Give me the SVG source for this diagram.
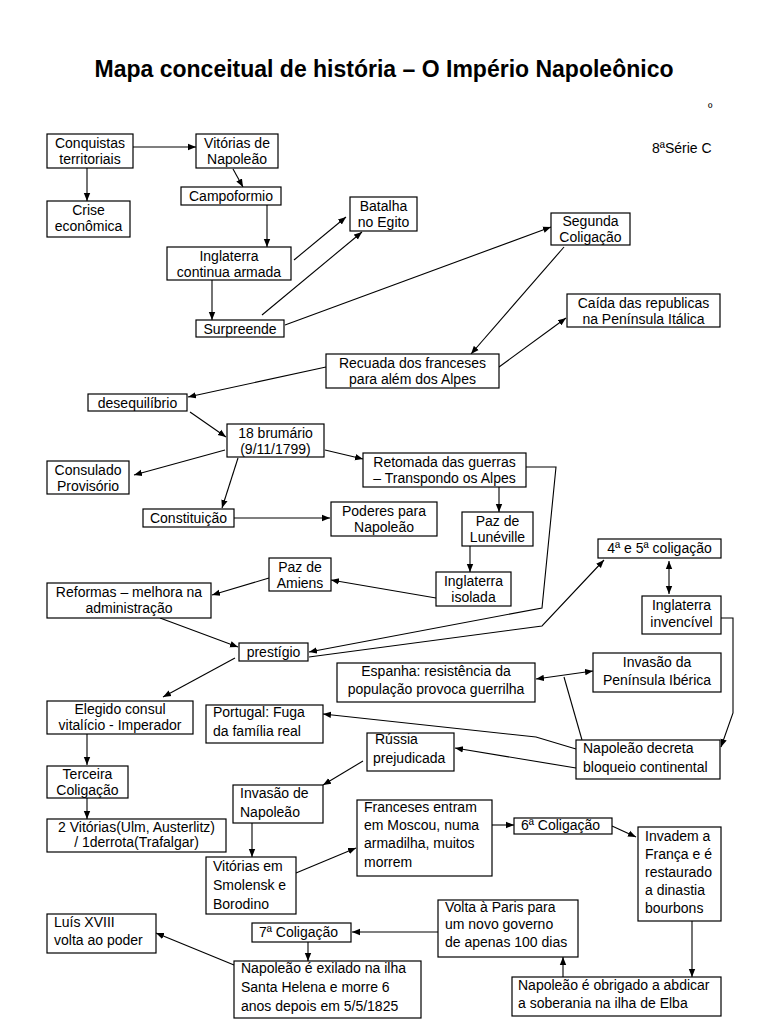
<svg xmlns="http://www.w3.org/2000/svg" width="768" height="1024" viewBox="0 0 768 1024">
<defs>
<marker id="a" viewBox="0 0 10 10" refX="10" refY="5" markerWidth="8" markerHeight="8" markerUnits="userSpaceOnUse" orient="auto-start-reverse"><path d="M0,1 L10,5 L0,9 z" fill="#000"/></marker>
<style>
rect{fill:#fff;stroke:#000;stroke-width:1.2}
text{font-family:"Liberation Sans",Arial,sans-serif;font-size:14px;fill:#000}
.c{text-anchor:middle}
#connectors path{fill:none;stroke:#000;stroke-width:1.1}
.e{marker-end:url(#a)}
.d{marker-start:url(#a);marker-end:url(#a)}
</style>
</defs>
<rect x="0" y="0" width="768" height="1024" style="fill:#fff;stroke:none"/>
<text x="384" y="77" class="c" style="font-size:23px;font-weight:bold">Mapa conceitual de história – O Império Napoleônico</text>
<text x="708" y="112" style="font-size:12px">º</text>
<text x="652" y="153">8ªSérie C</text>

<g id="connectors">
<path class="e" d="M133,147 L196,147"/>
<path class="e" d="M87,168 L87,201"/>
<path class="e" d="M233,169 L243,187"/>
<path class="e" d="M267,205 L267,247"/>
<path class="e" d="M212,280 L212,320"/>
<path class="e" d="M294,260 L346,217"/>
<path class="e" d="M262,315 L362,232"/>
<path class="e" d="M285,325 L551,227"/>
<path class="e" d="M564,247 L471,354"/>
<path class="e" d="M499,367 L566,318"/>
<path class="e" d="M326,367 L188,397"/>
<path class="e" d="M190,412 L226,437"/>
<path class="e" d="M225,450 L134,475"/>
<path class="e" d="M238,458 L222,508"/>
<path class="e" d="M325,450 L363,459"/>
<path class="e" d="M234,518 L330,518"/>
<path class="e" d="M499,487 L499,512"/>
<path class="e" d="M470,546 L470,572"/>
<path class="e" d="M436,598 L331,580"/>
<path class="e" d="M269,578 L212,595"/>
<path class="e" d="M160,618 L238,647"/>
<path class="e" d="M526,467 L556,467 L542,608 L309,652"/>
<path class="e" d="M309,657 L542,626 L604,560"/>
<path class="d" d="M669,561 L669,594"/>
<path class="e" d="M721,618 L733,618 L733,713 L721,747"/>
<path class="d" d="M536,679 L593,671"/>
<path d="M582,740 L564,677"/>
<path class="e" d="M576,749 L536,737 L323,714"/>
<path class="e" d="M576,768 L455,748"/>
<path class="e" d="M235,658 L163,697"/>
<path class="e" d="M87,734 L87,765"/>
<path class="e" d="M87,798 L87,819"/>
<path class="e" d="M363,761 L323,785"/>
<path class="e" d="M252,823 L252,857"/>
<path class="e" d="M296,873 L356,848"/>
<path class="e" d="M492,825 L514,825"/>
<path class="e" d="M612,826 L636,837"/>
<path class="e" d="M692,921 L692,977"/>
<path class="e" d="M563,977 L563,957"/>
<path class="e" d="M438,932 L352,932"/>
<path class="e" d="M308,942 L308,961"/>
<path class="e" d="M234,965 L156,933"/>
</g>

<g id="n1"><rect x="47" y="134" width="86" height="34"/><text x="90" y="148" class="c">Conquistas</text><text x="90" y="164" class="c">territoriais</text></g>
<g id="n2"><rect x="196" y="134" width="82" height="34"/><text x="237" y="148" class="c">Vitórias de</text><text x="237" y="164" class="c">Napoleão</text></g>
<g id="n3"><rect x="181" y="187" width="100" height="18"/><text x="231" y="201" class="c">Campoformio</text></g>
<g id="n4"><rect x="47" y="201" width="83" height="36"/><text x="88.5" y="215" class="c">Crise</text><text x="88.5" y="231" class="c">econômica</text></g>
<g id="n5"><rect x="167" y="247" width="124" height="33"/><text x="229" y="261" class="c">Inglaterra</text><text x="229" y="277" class="c">continua armada</text></g>
<g id="n6"><rect x="196" y="320" width="88" height="17"/><text x="240" y="334" class="c">Surpreende</text></g>
<g id="n7"><rect x="350" y="197" width="67" height="34"/><text x="383.5" y="211" class="c">Batalha</text><text x="383.5" y="227" class="c">no Egito</text></g>
<g id="n8"><rect x="551" y="213" width="79" height="32"/><text x="590.5" y="226" class="c">Segunda</text><text x="590.5" y="242" class="c">Coligação</text></g>
<g id="n9"><rect x="567" y="294" width="153" height="33"/><text x="643.5" y="308" class="c">Caída das republicas</text><text x="643.5" y="324" class="c">na Península Itálica</text></g>
<g id="n10"><rect x="326" y="354" width="173" height="34"/><text x="412.5" y="368" class="c">Recuada dos franceses</text><text x="412.5" y="384" class="c">para além dos Alpes</text></g>
<g id="n11"><rect x="88" y="394" width="99" height="17"/><text x="137.5" y="408" class="c">desequilíbrio</text></g>
<g id="n12"><rect x="227" y="424" width="97" height="33"/><text x="275.5" y="438" class="c">18 brumário</text><text x="275.5" y="454" class="c">(9/11/1799)</text></g>
<g id="n13"><rect x="47" y="461" width="82" height="33"/><text x="88" y="475" class="c">Consulado</text><text x="88" y="491" class="c">Provisório</text></g>
<g id="n14"><rect x="143" y="509" width="91" height="18"/><text x="188.5" y="523" class="c">Constituição</text></g>
<g id="n15"><rect x="331" y="502" width="106" height="34"/><text x="384" y="516" class="c">Poderes para</text><text x="384" y="532" class="c">Napoleão</text></g>
<g id="n16"><rect x="363" y="453" width="163" height="34"/><text x="444.5" y="467" class="c">Retomada das guerras</text><text x="444.5" y="483" class="c">– Transpondo os Alpes</text></g>
<g id="n17"><rect x="462" y="512" width="71" height="34"/><text x="497.5" y="526" class="c">Paz de</text><text x="497.5" y="542" class="c">Lunéville</text></g>
<g id="n18"><rect x="436" y="572" width="75" height="34"/><text x="473.5" y="586" class="c">Inglaterra</text><text x="473.5" y="602" class="c">isolada</text></g>
<g id="n19"><rect x="269" y="558" width="62" height="33"/><text x="300" y="572" class="c">Paz de</text><text x="300" y="588" class="c">Amiens</text></g>
<g id="n20"><rect x="47" y="583" width="164" height="35"/><text x="129" y="597" class="c">Reformas – melhora na</text><text x="129" y="613" class="c">administração</text></g>
<g id="n21"><rect x="239" y="643" width="69" height="18"/><text x="273.5" y="657" class="c">prestígio</text></g>
<g id="n22"><rect x="598" y="539" width="123" height="19"/><text x="659.5" y="553" class="c">4ª e 5ª coligação</text></g>
<g id="n23"><rect x="642" y="596" width="79" height="38"/><text x="681.5" y="610" class="c">Inglaterra</text><text x="681.5" y="627" class="c">invencível</text></g>
<g id="n24"><rect x="337" y="663" width="198" height="39"/><text x="436" y="676" class="c">Espanha: resistência da</text><text x="436" y="694" class="c">população provoca guerrilha</text></g>
<g id="n25"><rect x="593" y="653" width="128" height="39"/><text x="657" y="667" class="c">Invasão da</text><text x="657" y="685" class="c">Península Ibérica</text></g>
<g id="n26"><rect x="47" y="701" width="146" height="33"/><text x="120" y="714" class="c">Elegido consul</text><text x="120" y="730" class="c">vitalício - Imperador</text></g>
<g id="n27"><rect x="206" y="705" width="117" height="38"/><text x="213" y="717">Portugal: Fuga</text><text x="213" y="736">da família real</text></g>
<g id="n28"><rect x="367" y="733" width="87" height="38"/><text x="375" y="744">Rússia</text><text x="373" y="763">prejudicada</text></g>
<g id="n29"><rect x="576" y="740" width="144" height="39"/><text x="583" y="753">Napoleão decreta</text><text x="583" y="772">bloqueio continental</text></g>
<g id="n30"><rect x="47" y="766" width="81" height="32"/><text x="87.5" y="779" class="c">Terceira</text><text x="87.5" y="795" class="c">Coligação</text></g>
<g id="n31"><rect x="47" y="819" width="179" height="33"/><text x="136.5" y="832" class="c">2 Vitórias(Ulm, Austerlitz)</text><text x="136.5" y="847" class="c">/ 1derrota(Trafalgar)</text></g>
<g id="n32"><rect x="233" y="785" width="90" height="38"/><text x="240" y="798">Invasão de</text><text x="240" y="817">Napoleão</text></g>
<g id="n33"><rect x="206" y="857" width="90" height="57"/><text x="213" y="871">Vitórias em</text><text x="213" y="890">Smolensk e</text><text x="213" y="909">Borodino</text></g>
<g id="n34"><rect x="357" y="800" width="135" height="76"/><text x="364" y="812">Franceses entram</text><text x="364" y="830">em Moscou, numa</text><text x="364" y="848">armadilha, muitos</text><text x="364" y="867">morrem</text></g>
<g id="n35"><rect x="514" y="818" width="98" height="16"/><text x="521" y="830">6ª Coligação</text></g>
<g id="n36"><rect x="638" y="827" width="83" height="94"/><text x="645" y="841">Invadem a</text><text x="645" y="859">França e é</text><text x="645" y="877">restaurado</text><text x="645" y="895">a dinastia</text><text x="645" y="913">bourbons</text></g>
<g id="n37"><rect x="438" y="900" width="140" height="57"/><text x="445" y="912">Volta à Paris para</text><text x="445" y="929">um novo governo</text><text x="445" y="947">de apenas 100 dias</text></g>
<g id="n38"><rect x="512" y="977" width="209" height="39"/><text x="518" y="990">Napoleão é obrigado a abdicar</text><text x="518" y="1008">a soberania na ilha de Elba</text></g>
<g id="n39"><rect x="47" y="914" width="109" height="39"/><text x="54" y="927">Luís XVIII</text><text x="54" y="945">volta ao poder</text></g>
<g id="n40"><rect x="252" y="923" width="99" height="19"/><text x="259" y="937">7ª Coligação</text></g>
<g id="n41"><rect x="234" y="961" width="187" height="57"/><text x="241" y="973">Napoleão é exilado na ilha</text><text x="241" y="992">Santa Helena e morre 6</text><text x="241" y="1011">anos depois em 5/5/1825</text></g>
</svg>
